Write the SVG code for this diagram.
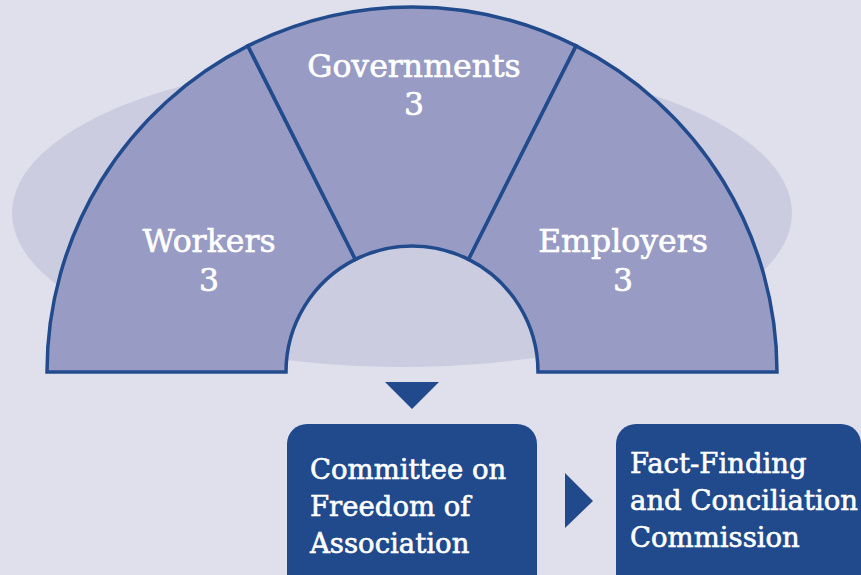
<svg xmlns="http://www.w3.org/2000/svg" width="861" height="575" viewBox="0 0 861 575">
<style>
.sec{fill:#989bc4;stroke:#224b8d;stroke-width:3.5;stroke-linejoin:miter}
.lbl{font-family:"DejaVu Serif","Liberation Serif",serif;fill:#ffffff;stroke:#ffffff;stroke-width:0.6;font-size:31.5px;text-anchor:middle}
.box{fill:#214a8c}
.btx{font-family:"DejaVu Serif","Liberation Serif",serif;fill:#ffffff;stroke:#ffffff;stroke-width:0.6;font-size:27.5px}
.arr{fill:#214a8c}
</style>
<rect x="0" y="0" width="861" height="575" fill="#e0e0ec"/>
<ellipse cx="402" cy="213" rx="390" ry="154" fill="#cbcce0"/>
<g id="workers">
<path class="sec" d="M47,372 A365,365 0 0 1 247.9,45.9 L355.4,259.4 A126,126 0 0 0 286,372 Z"/>
<text class="lbl" x="209" y="252">Workers</text>
<text class="lbl" x="209" y="291">3</text>
</g>
<g id="governments">
<path class="sec" d="M247.9,45.9 A365,365 0 0 1 576.1,45.9 L468.6,259.4 A126,126 0 0 0 355.4,259.4 Z"/>
<text class="lbl" x="414" y="77">Governments</text>
<text class="lbl" x="414" y="115">3</text>
</g>
<g id="employers">
<path class="sec" d="M576.1,45.9 A365,365 0 0 1 777,372 L538,372 A126,126 0 0 0 468.6,259.4 Z"/>
<text class="lbl" x="623" y="252">Employers</text>
<text class="lbl" x="623" y="291">3</text>
</g>
<g id="connectors">
<polygon class="arr" points="385,382 439,382 412,409"/>
<polygon class="arr" points="565,473 565,528 593,501"/>
</g>
<g id="cfa">
<rect class="box" x="287" y="424" width="250" height="180" rx="20"/>
<text class="btx" x="310" y="479">Committee on</text>
<text class="btx" x="310" y="516">Freedom of</text>
<text class="btx" x="310" y="553">Association</text>
</g>
<g id="ffcc">
<rect class="box" x="616" y="424" width="245" height="180" rx="20"/>
<text class="btx" x="630" y="473">Fact-Finding</text>
<text class="btx" x="630" y="510">and Conciliation</text>
<text class="btx" x="630" y="547">Commission</text>
</g>
</svg>
